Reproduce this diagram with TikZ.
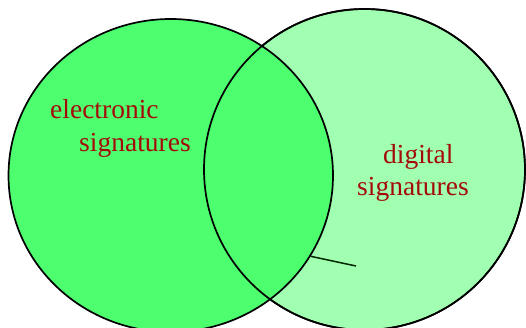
\documentclass[tikz,border=0pt]{standalone}
\usepackage{fontspec}
\setmainfont{Liberation Serif}
\usetikzlibrary{shapes.geometric}
\definecolor{leftgreen}{RGB}{77,255,110}
\definecolor{rightgreen}{RGB}{160,255,176}
\definecolor{labelred}{RGB}{165,10,10}
\begin{document}
\begin{tikzpicture}[x=1pt,y=1pt,
  outline/.style={draw=black,line width=1.7pt},
  label/.style={text=labelred,inner sep=0pt,anchor=base west,font=\fontsize{27.5}{32}\selectfont}]
\useasboundingbox (0,0) rectangle (526,327);
\begin{scope}
\clip (0,0) rectangle (526,327);
\node (R) [circle,fill=rightgreen,outline,minimum size=321pt,inner sep=0pt] at (364.5,157.5) {};
\node (L) [ellipse,fill=leftgreen,outline,minimum width=324.5pt,minimum height=313pt,inner sep=0pt] at (170.75,151.5) {};
\draw[outline] (R.center) circle (160.5);
\end{scope}
\coordinate (tail) at (356,61);
\draw[line width=1.5pt,black!85!green] (L.-30.9) -- (tail);
\node (e1) [label] at (50,208) {electronic};
\node (e2) [label] at (79,176) {signatures};
\node (d1) [label] at (383,164) {digital};
\node (d2) [label] at (357,132) {signatures};
\end{tikzpicture}
\end{document}
